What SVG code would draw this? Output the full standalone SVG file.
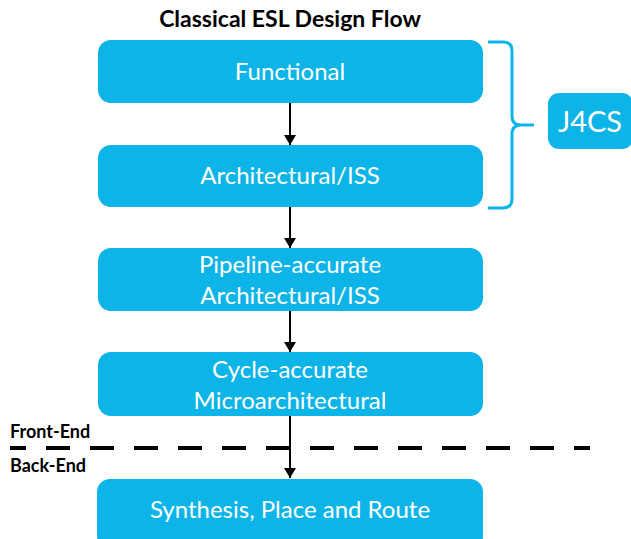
<svg xmlns="http://www.w3.org/2000/svg" width="631" height="539" viewBox="0 0 631 539">
<defs>
<marker id="ah" viewBox="0 0 10 12" refX="10" refY="6" markerWidth="10" markerHeight="12" markerUnits="userSpaceOnUse" orient="auto">
<path d="M0,0 L10,6 L0,12 Z" fill="#000"/>
</marker>
</defs>
<style>
.box{fill:#0DB4E7;}
.t{font-family:Lato,"Open Sans",sans-serif;font-size:24px;fill:#fff;text-anchor:middle;}
.lbl{font-family:Lato,"Open Sans",sans-serif;font-weight:bold;font-size:18px;fill:#000;}
.con{stroke:#000;stroke-width:2;fill:none;marker-end:url(#ah);}
</style>
<rect width="631" height="539" fill="#fff"/>
<text x="290" y="27" font-family="Lato,'Open Sans',sans-serif" font-weight="bold" font-size="23" text-anchor="middle" fill="#000">Classical ESL Design Flow</text>
<g id="functional"><rect class="box" x="98" y="40" width="385" height="63" rx="13"/><text class="t" x="290" y="80">Functional</text></g>
<g id="architectural"><rect class="box" x="98" y="145" width="385" height="62" rx="13"/><text class="t" x="290" y="184">Architectural/ISS</text></g>
<g id="pipeline"><rect class="box" x="98" y="248" width="385" height="63" rx="13"/><text class="t" x="290" y="273">Pipeline-accurate</text><text class="t" x="290" y="304">Architectural/ISS</text></g>
<g id="cycle"><rect class="box" x="98" y="352" width="385" height="64" rx="13"/><text class="t" x="290" y="378">Cycle-accurate</text><text class="t" x="290" y="409">Microarchitectural</text></g>
<g id="synthesis"><rect class="box" x="97" y="479" width="386" height="70" rx="13"/><text class="t" x="290" y="518">Synthesis, Place and Route</text></g>
<g id="j4cs"><path d="M488,42 H503 Q512,42 512,51 V116 Q512,125 521,125 H534 M521,125 Q512,125 512,134 V199 Q512,208 503,208 H488" fill="none" stroke="#0DB4E7" stroke-width="3"/><rect class="box" x="548" y="93" width="85" height="56" rx="11"/><text x="590" y="132" font-family="Lato,'Open Sans',sans-serif" font-size="29" fill="#fff" text-anchor="middle">J4CS</text></g>
<g id="boundary"><line x1="10" y1="448" x2="590" y2="448" stroke="#000" stroke-width="4" stroke-dasharray="24 20" stroke-dashoffset="8"/><text class="lbl" x="10" y="438">Front-End</text><text class="lbl" x="10" y="472">Back-End</text></g>
<g id="connectors">
<line class="con" x1="290" y1="103" x2="290" y2="145"/>
<line class="con" x1="290" y1="207" x2="290" y2="248"/>
<line class="con" x1="290" y1="311" x2="290" y2="352"/>
<line class="con" x1="290" y1="416" x2="290" y2="478"/>
</g>
</svg>
